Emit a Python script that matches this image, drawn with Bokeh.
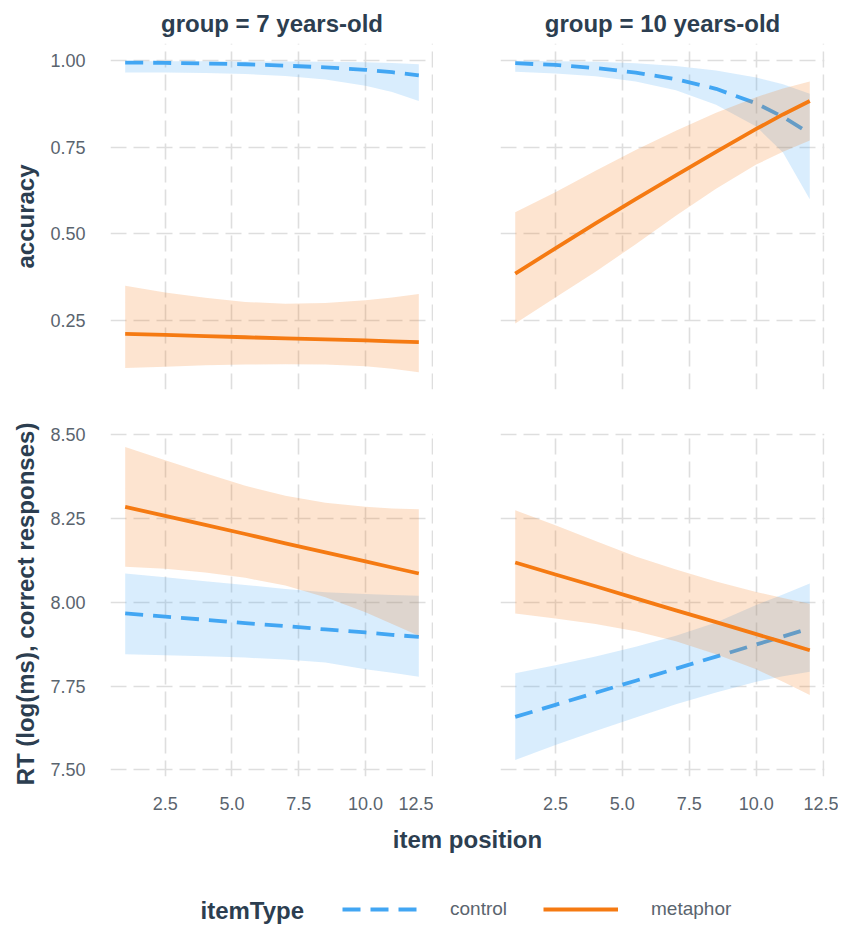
from bokeh.plotting import figure
from bokeh.layouts import column, row
from bokeh.models import (Range1d, Title, Legend, LegendItem, Label,
                          FixedTicker, NumeralTickFormatter)
from bokeh.embed import file_html
from bokeh.resources import INLINE

# ---------------- data ----------------
item_position = [1, 2.5, 4, 5.5, 7, 8.5, 10, 11, 12]

x_ticks = [2.5, 5.0, 7.5, 10.0, 12.5]
acc_ticks = [0.25, 0.50, 0.75, 1.00]
rt_ticks = [7.50, 7.75, 8.00, 8.25, 8.50]

groups = ["7 years-old", "10 years-old"]
item_types = ["control", "metaphor"]

# accuracy, 7 years-old
acc7_control_fit = [0.995, 0.994, 0.992, 0.990, 0.986, 0.981, 0.974, 0.967, 0.958]
acc7_control_lo = [0.966, 0.966, 0.965, 0.962, 0.956, 0.946, 0.928, 0.910, 0.884]
acc7_control_hi = [0.999, 0.999, 0.999, 0.998, 0.998, 0.997, 0.996, 0.994, 0.990]
acc7_metaphor_fit = [0.211, 0.208, 0.204, 0.201, 0.198, 0.195, 0.192, 0.189, 0.187]
acc7_metaphor_lo = [0.112, 0.116, 0.120, 0.122, 0.123, 0.122, 0.117, 0.110, 0.100]
acc7_metaphor_hi = [0.350, 0.330, 0.315, 0.303, 0.298, 0.300, 0.308, 0.316, 0.326]

# accuracy, 10 years-old
acc10_control_fit = [0.993, 0.988, 0.979, 0.966, 0.947, 0.919, 0.877, 0.838, 0.790]
acc10_control_lo = [0.968, 0.963, 0.955, 0.940, 0.915, 0.873, 0.810, 0.735, 0.600]
acc10_control_hi = [1.000, 0.999, 0.997, 0.993, 0.985, 0.972, 0.952, 0.932, 0.905]
acc10_metaphor_fit = [0.385, 0.458, 0.530, 0.600, 0.669, 0.737, 0.803, 0.845, 0.884]
acc10_metaphor_lo = [0.241, 0.316, 0.390, 0.470, 0.552, 0.630, 0.700, 0.737, 0.770]
acc10_metaphor_hi = [0.562, 0.620, 0.682, 0.742, 0.798, 0.850, 0.895, 0.920, 0.940]

# RT, 7 years-old
rt7_control_fit = [7.967, 7.957, 7.948, 7.938, 7.929, 7.919, 7.910, 7.903, 7.897]
rt7_control_lo = [7.845, 7.842, 7.839, 7.835, 7.829, 7.820, 7.800, 7.790, 7.778]
rt7_control_hi = [8.086, 8.075, 8.063, 8.052, 8.040, 8.030, 8.025, 8.022, 8.020]
rt7_metaphor_fit = [8.285, 8.258, 8.231, 8.204, 8.176, 8.149, 8.122, 8.104, 8.086]
rt7_metaphor_lo = [8.106, 8.100, 8.089, 8.073, 8.050, 8.015, 7.970, 7.935, 7.900]
rt7_metaphor_hi = [8.464, 8.424, 8.385, 8.348, 8.318, 8.297, 8.285, 8.280, 8.278]

# RT, 10 years-old
rt10_control_fit = [7.658, 7.694, 7.730, 7.766, 7.802, 7.838, 7.874, 7.898, 7.922]
rt10_control_lo = [7.529, 7.574, 7.616, 7.656, 7.696, 7.731, 7.763, 7.779, 7.793]
rt10_control_hi = [7.788, 7.812, 7.838, 7.867, 7.900, 7.940, 7.992, 8.023, 8.056]
rt10_metaphor_fit = [8.119, 8.083, 8.048, 8.012, 7.976, 7.941, 7.905, 7.881, 7.857]
rt10_metaphor_lo = [7.967, 7.952, 7.935, 7.914, 7.884, 7.845, 7.800, 7.763, 7.723]
rt10_metaphor_hi = [8.275, 8.230, 8.183, 8.137, 8.098, 8.062, 8.031, 8.013, 7.996]

# ---------------- style ----------------
FONT = "Liberation Sans"
TITLE_COLOR = "#2c3e50"
TICK_COLOR = "#5a646e"
GRID_COLOR = "#dedede"
BLUE = "#42a6f3"
ORANGE = "#f57a12"
CONTROL_DASH = "18 10"
RIBBON_ALPHA = 0.2
LINE_W = 3.8


def make_panel(series, y_range, y_ticks, y_fmt, show_x, show_y, strip,
               y_label, left, right, top, bottom, fw, fh):
    p = figure(frame_width=fw, frame_height=fh,
               x_range=Range1d(0.45, 12.55), y_range=y_range,
               output_backend="svg", toolbar_location=None,
               min_border_left=left, min_border_right=right,
               min_border_top=top, min_border_bottom=bottom,
               background_fill_color="white", border_fill_color="white")
    p.outline_line_color = None

    for ax in (p.xaxis[0], p.yaxis[0]):
        ax.axis_line_color = None
        ax.major_tick_line_color = None
        ax.minor_tick_line_color = None
        ax.major_label_text_font = FONT
        ax.major_label_text_font_size = "18px"
        ax.major_label_text_color = TICK_COLOR

    p.xaxis.ticker = FixedTicker(ticks=x_ticks)
    p.xaxis.formatter = NumeralTickFormatter(format="0.0")
    p.xaxis.major_label_standoff = 14
    p.yaxis.ticker = FixedTicker(ticks=y_ticks)
    p.yaxis.formatter = NumeralTickFormatter(format=y_fmt)
    p.yaxis.major_label_standoff = 19

    for g in (p.xgrid[0], p.ygrid[0]):
        g.grid_line_color = GRID_COLOR
        g.grid_line_width = 1.6
        g.grid_line_dash = "16 7"
    p.xgrid.ticker = FixedTicker(ticks=x_ticks)
    p.ygrid.ticker = FixedTicker(ticks=y_ticks)

    if not show_x:
        p.xaxis.visible = False
    if not show_y:
        p.yaxis.visible = False
    if y_label:
        p.yaxis.axis_label = y_label
        p.yaxis.axis_label_text_font = FONT
        p.yaxis.axis_label_text_font_size = "24px"
        p.yaxis.axis_label_text_font_style = "bold"
        p.yaxis.axis_label_text_color = TITLE_COLOR
        p.yaxis.axis_label_standoff = 8

    if strip:
        t = Title(text=strip, align="center", text_font=FONT,
                  text_font_size="24px", text_font_style="bold",
                  text_color=TITLE_COLOR, standoff=14)
        p.add_layout(t, "above")

    colors = {"control": BLUE, "metaphor": ORANGE}
    for kind in item_types:
        fit, lo, hi = series[kind]
        p.varea(x=item_position, y1=lo, y2=hi, fill_color=colors[kind],
                fill_alpha=RIBBON_ALPHA)
        if kind == "control":
            p.line(item_position, fit, line_color=colors[kind], line_width=LINE_W,
                   line_dash=CONTROL_DASH, line_join="round")
        else:
            p.line(item_position, fit, line_color=colors[kind], line_width=LINE_W,
                   line_join="round")
    return p


acc_range = lambda: Range1d(0.05, 1.05)
rt_range = lambda: Range1d(7.48, 8.51)

p_tl = make_panel({"control": (acc7_control_fit, acc7_control_lo, acc7_control_hi),
                   "metaphor": (acc7_metaphor_fit, acc7_metaphor_lo, acc7_metaphor_hi)},
                  acc_range(), acc_ticks, "0.00", False, True,
                  "group = " + groups[0], "accuracy", 110, 0, 42, 20, 323, 346)
p_tr = make_panel({"control": (acc10_control_fit, acc10_control_lo, acc10_control_hi),
                   "metaphor": (acc10_metaphor_fit, acc10_metaphor_lo, acc10_metaphor_hi)},
                  acc_range(), acc_ticks, "0.00", False, False,
                  "group = " + groups[1], None, 67, 14, 42, 20, 324, 346)
p_bl = make_panel({"control": (rt7_control_fit, rt7_control_lo, rt7_control_hi),
                   "metaphor": (rt7_metaphor_fit, rt7_metaphor_lo, rt7_metaphor_hi)},
                  rt_range(), rt_ticks, "0.00", True, True,
                  None, "RT (log(ms), correct responses)", 110, 0, 22, 40, 323, 345)
p_br = make_panel({"control": (rt10_control_fit, rt10_control_lo, rt10_control_hi),
                   "metaphor": (rt10_metaphor_fit, rt10_metaphor_lo, rt10_metaphor_hi)},
                  rt_range(), rt_ticks, "0.00", True, False,
                  None, None, 67, 14, 22, 40, 324, 345)

# ---------------- bottom strip: x title + legend ----------------
W, H = 838, 112
lp = figure(width=W, height=H, x_range=Range1d(0, W), y_range=Range1d(0, H),
            output_backend="svg", toolbar_location=None, min_border=0,
            background_fill_color="white", border_fill_color="white")
lp.outline_line_color = None
lp.axis.visible = False
lp.grid.visible = False

lp.add_layout(Label(x=467, y=89, text="item position", text_font=FONT,
                    text_font_size="24px", text_font_style="bold",
                    text_color=TITLE_COLOR, text_align="center",
                    text_baseline="middle"))
lp.add_layout(Label(x=200, y=18, text="itemType", text_font=FONT,
                    text_font_size="24px", text_font_style="bold",
                    text_color=TITLE_COLOR, text_align="left",
                    text_baseline="middle"))

# legend renderers (placed outside the visible range; only their swatches show)
r_c = lp.line([-20, -10], [-20, -20], line_color=BLUE, line_width=LINE_W,
              line_dash=CONTROL_DASH)
r_m = lp.line([-20, -10], [-20, -20], line_color=ORANGE, line_width=LINE_W)
legend = Legend(items=[LegendItem(label=item_types[0], renderers=[r_c]),
                       LegendItem(label=item_types[1], renderers=[r_m])],
                orientation="horizontal", location=(342, 8),
                glyph_width=75, glyph_height=20, label_standoff=33,
                spacing=36, padding=0, margin=0,
                border_line_color=None, background_fill_alpha=0,
                label_text_font=FONT, label_text_font_size="19px",
                label_text_color=TICK_COLOR)
lp.add_layout(legend)

layout = column(row(p_tl, p_tr), row(p_bl, p_br), lp)

open("out.html", "w").write(file_html(layout, INLINE))
